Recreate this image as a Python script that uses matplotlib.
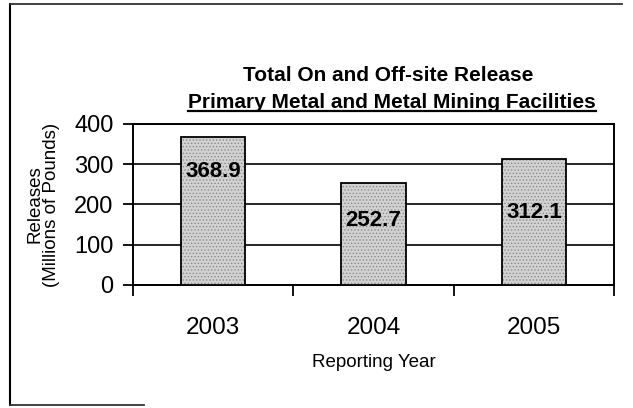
import matplotlib
matplotlib.use("Agg")
import matplotlib.pyplot as plt
from matplotlib.lines import Line2D

plt.rcParams['font.family'] = ['Liberation Sans', 'DejaVu Sans']
plt.rcParams['hatch.linewidth'] = 0.6

years = ['2003', '2004', '2005']
releases = [368.9, 252.7, 312.1]
y_ticks = [0, 100, 200, 300, 400]

title_line1 = 'Total On and Off-site Release'
title_line2 = 'Primary Metal and Metal Mining Facilities'

# vertical placement of each value label below its bar top (points)
label_offsets = [-25, -27, -38]

fig = plt.figure(figsize=(6.33, 4.08), dpi=100)
ax = fig.add_axes([0.2101, 0.3015, 0.7599, 0.3946])

x = list(range(len(years)))
# stippled grey fill, then a black outline on top
ax.bar(x, releases, width=0.4, color='#d2d2d2', edgecolor='#8a8a8a',
       hatch='.....', linewidth=0, zorder=3)
ax.bar(x, releases, width=0.4, fill=False, edgecolor='black',
       linewidth=1.3, zorder=3.5)

for xi, v, off in zip(x, releases, label_offsets):
    ax.annotate(f'{v:.1f}', (xi, v), xytext=(0, off), textcoords='offset points',
                ha='center', va='center', fontsize=16, fontweight='bold',
                color='black', zorder=4)

ax.set_xlim(-0.5, len(years) - 0.5)
ax.set_ylim(0, 400)
ax.set_yticks(y_ticks)
ax.set_yticklabels([str(t) for t in y_ticks], fontsize=17)
ax.yaxis.grid(True, color='black', linewidth=1.2, zorder=0)

# category labels at centres, tick marks at boundaries
ax.set_xticks(x)
ax.set_xticklabels(years, fontsize=17.5)
ax.tick_params(axis='x', which='major', length=0, pad=23)
ax.set_xticks([i - 0.5 for i in range(len(years) + 1)], minor=True)
ax.tick_params(axis='x', which='minor', length=8, width=1.3, direction='out')
ax.tick_params(axis='y', length=7, width=1.3, direction='out', pad=7)

for s in ax.spines.values():
    s.set_linewidth(1.4)
    s.set_color('black')

ax.set_xlabel('Reporting Year', fontsize=13.5, labelpad=11)
ax.set_ylabel('Releases\n(Millions of Pounds)', fontsize=13.5, labelpad=10,
              linespacing=0.95)

fig.text(0.613, 0.815, title_line1, ha='center', va='center',
         fontsize=15, fontweight='bold')
t2 = fig.text(0.619, 0.75, title_line2, ha='center', va='center',
              fontsize=15, fontweight='bold')

# underline beneath the second title line
fig.canvas.draw()
bb = t2.get_window_extent(renderer=fig.canvas.get_renderer())
fw, fh = fig.bbox.width, fig.bbox.height
uy = (bb.y0 + 1) / fh
fig.add_artist(Line2D([bb.x0 / fw, bb.x1 / fw], [uy, uy], color='black',
                      linewidth=1.6, transform=fig.transFigure))

# outer frame
fig.add_artist(Line2D([0.016, 0.016], [0.008, 0.99], color='black',
                      linewidth=1.5, transform=fig.transFigure))
fig.add_artist(Line2D([0.016, 0.982], [0.99, 0.99], color='#333333',
                      linewidth=1.3, transform=fig.transFigure))
fig.add_artist(Line2D([0.016, 0.228], [0.008, 0.008], color='#333333',
                      linewidth=1.3, transform=fig.transFigure))

fig.savefig('out.png', dpi=100)
